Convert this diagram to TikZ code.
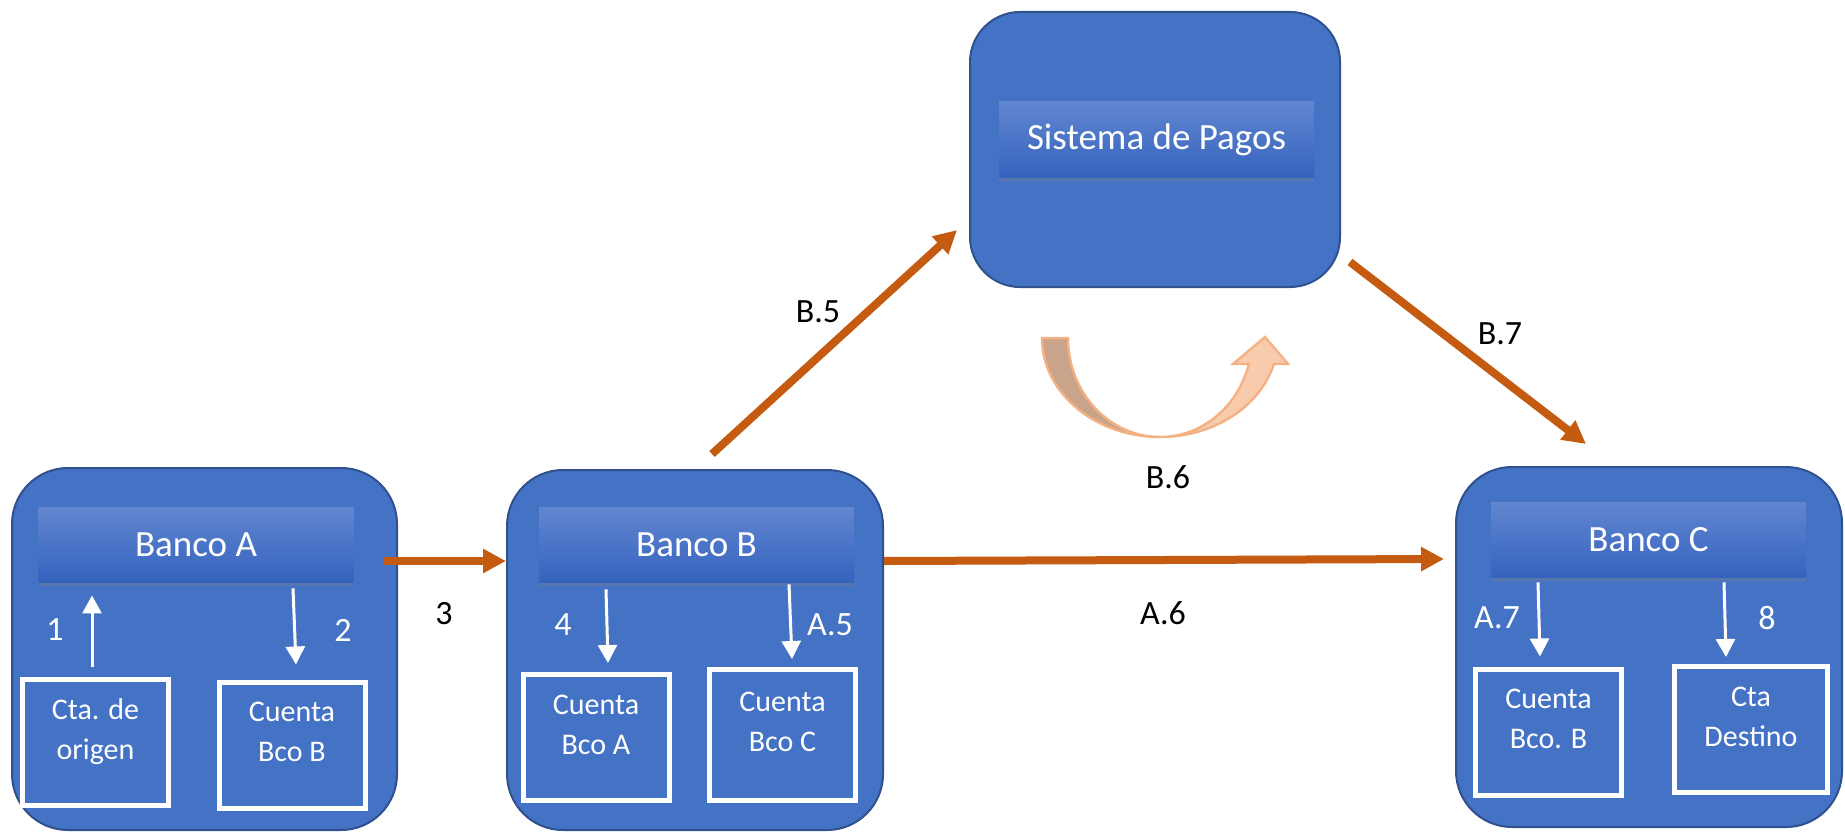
\documentclass[tikz,border=0pt]{standalone}
\usepackage{fontspec}
\setmainfont{Carlito}
\usepackage{xcolor}
\usetikzlibrary{arrows.meta,positioning,calc,shadows}

\definecolor{bankblue}{HTML}{4472C4}
\definecolor{bankedge}{HTML}{2F528F}
\definecolor{headtop}{RGB}{98,134,208}
\definecolor{headbot}{RGB}{52,99,190}
\definecolor{flowline}{HTML}{C55A11}
\definecolor{udark}{RGB}{201,164,139}
\definecolor{ulight}{RGB}{248,203,173}
\definecolor{uedge}{RGB}{244,177,131}

\begin{document}
\begin{tikzpicture}[
    x=1pt, y=1pt,
    bank/.style={rectangle, rounded corners=28pt, fill=bankblue, draw=bankedge, line width=1pt},
    title/.style={rectangle, top color=headtop, bottom color=headbot, minimum width=157.5pt, minimum height=37.5pt, text=white, font=\fontsize{18.5}{22}\selectfont, drop shadow={shadow xshift=0pt, shadow yshift=-2pt, opacity=0.35}},
    acct/.style={rectangle, fill=bankblue, draw=white, line width=2.5pt, minimum width=73pt, minimum height=63pt, text=white, align=center, text depth=13pt, font=\fontsize{15}{20}\selectfont, drop shadow={shadow xshift=1pt, shadow yshift=-1pt, opacity=0.3}},
    wflow/.style={-{Triangle[width=9.5pt,length=9pt]}, draw=white, line width=1.5pt},
    flow/.style={-{Triangle[width=11.5pt,length=11.5pt]}, draw=flowline, line width=4pt},
    num/.style={text=white, font=\fontsize{17}{20}\selectfont},
    tag/.style={text=black, font=\fontsize{17}{20}\selectfont}
]
    \useasboundingbox (0,0) rectangle (922.5,416);

    % bancos y sistema de pagos
    \node[bank, minimum width=192.5pt, minimum height=181pt] (bancoA) at (102.25,91.5) {};
    \node[bank, minimum width=188pt, minimum height=180pt] (bancoB) at (347.5,91) {};
    \node[bank, minimum width=193pt, minimum height=180pt] (bancoC) at (824.5,92.5) {};
    \node[bank, rounded corners=25pt, minimum width=185pt, minimum height=137.5pt] (sistema) at (577.5,341.25) {};

    \node[title] (hA) at (98,143.75) {Banco A};
    \node[title] (hB) at (348.25,143.75) {Banco B};
    \node[title] (hC) at (824.25,146.25) {Banco C};
    \node[title] (hS) at (578.25,346.25) {Sistema de Pagos};

    % cuentas
    \node[acct] (ctaA1) at (47.75,45) {Cta. de\\origen};
    \node[acct] (ctaA2) at (146,43.5) {Cuenta\\Bco B};
    \node[acct] (ctaB1) at (298,47.25) {Cuenta\\Bco A};
    \node[acct, minimum height=65.5pt] (ctaB2) at (391.25,48.5) {Cuenta\\Bco C};
    \node[acct] (ctaC1) at (774.25,50) {Cuenta\\Bco. B};
    \node[acct, minimum width=76.5pt] (ctaC2) at (875.5,51.25) {Cta\\Destino};

    % pasos internos
    \draw[wflow] ($(ctaA1.north)+(-1.75pt,5pt)$) -- ($(hA.south -| ctaA1.north)+(-1.75pt,-6.5pt)$);
    \draw[wflow] ($(hA.south -| ctaA2.north)+(0.5pt,-3pt)$) -- ($(ctaA2.north)+(2pt,7.5pt)$);
    \draw[wflow] ($(hB.south -| ctaB1.north)+(5pt,-3.5pt)$) -- ($(ctaB1.north)+(6pt,4.5pt)$);
    \draw[wflow] ($(hB.south -| ctaB2.north)+(3.25pt,-1pt)$) -- ($(ctaB2.north)+(4.75pt,4pt)$);
    \draw[wflow] ($(hC.south -| ctaC1.north)+(-5.25pt,-2.5pt)$) -- ($(ctaC1.north)+(-4.25pt,5pt)$);
    \draw[wflow] ($(hC.south -| ctaC2.north)+(-13.5pt,-2.5pt)$) -- ($(ctaC2.north)+(-12.5pt,3.5pt)$);

    \node[num] (n1) at (27.5,101) {1};
    \node[num] (n2) at (171.5,101) {2};
    \node[num] (n4) at (281.5,103.5) {4};
    \node[num] (nA5) at (415,103.5) {A.5};
    \node[num] (nA7) at (748.5,107) {A.7};
    \node[num] (n8) at (883.5,107) {8};

    % flujos entre bancos
    \draw[flow] ($(bancoA.east)+(-7pt,44pt)$) -- ($(bancoB.west)+(0pt,44.5pt)$);
    \draw[flow] ($(bancoB.east)+(0pt,44.5pt)$) -- ($(bancoC.west)+(-5.5pt,44pt)$);
    \draw[flow] ($(bancoB.north)+(8.5pt,7.5pt)$) -- ($(sistema.south west)+(-6pt,29pt)$);
    \draw[flow] ($(sistema.south east)+(4.5pt,13pt)$) -- ($(bancoC.north)+(-31.5pt,11pt)$);

    % compensacion en el sistema
    \filldraw[fill=udark, draw=uedge, line width=1.2pt] (521,247)
        arc[start angle=180, end angle=270, x radius=59, y radius=49.5]
        arc[start angle=270, end angle=180, x radius=46, y radius=49.5] -- cycle;
    \filldraw[fill=ulight, draw=uedge, line width=1.2pt] (580,197.5)
        arc[start angle=270, end angle=344.8, x radius=59, y radius=49.5]
        -- (644,234) -- (632.5,247.5) -- (616.5,234) -- (624.4,234)
        arc[start angle=344.8, end angle=270, x radius=46, y radius=49.5] -- cycle;

    \node[tag] (n3) at (222,109) {3};
    \node[tag] (nA6) at (581.5,109.5) {A.6};
    \node[tag] (nB5) at (409,260) {B.5};
    \node[tag] (nB6) at (584,177.5) {B.6};
    \node[tag] (nB7) at (750,249) {B.7};
\end{tikzpicture}
\end{document}
